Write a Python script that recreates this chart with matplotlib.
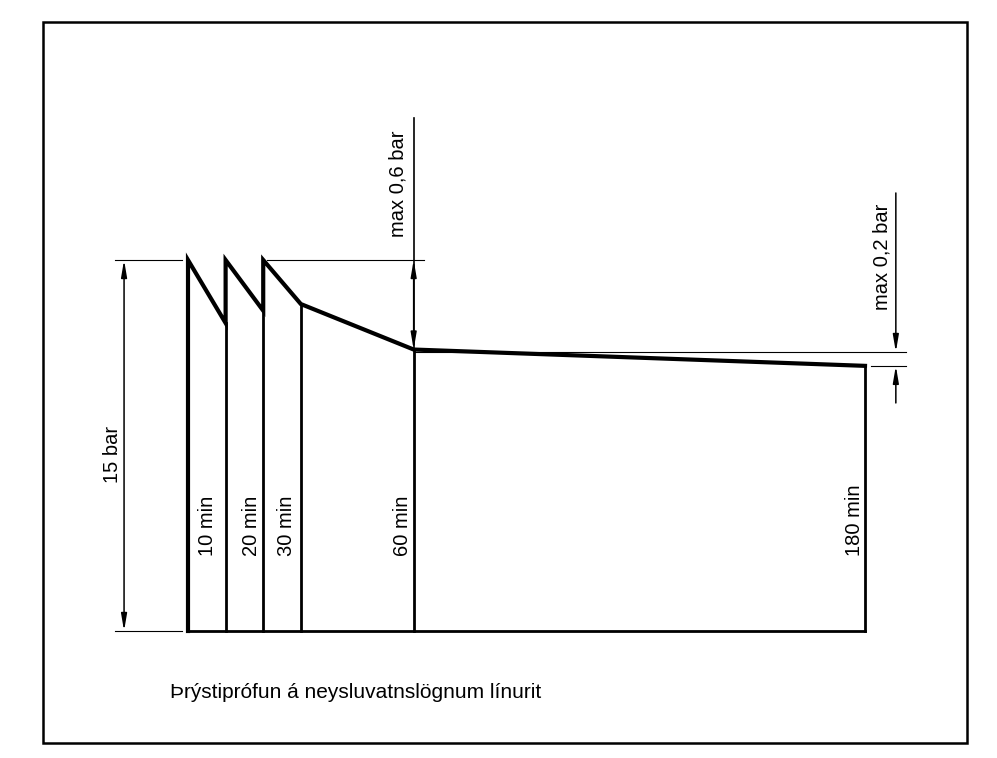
import matplotlib
matplotlib.use("Agg")
import matplotlib.pyplot as plt
from matplotlib.patches import Rectangle

plt.rcParams['font.family'] = ['Liberation Sans', 'DejaVu Sans']

# time marks (min) and drawn pressure levels (drawing units, 15 = test pressure)
times = [0, 10, 20, 30, 60, 180]
peak = 15
drops = [12.45, 12.95]          # level reached at 10 and 20 min before re-pumping
p30, p60, p180 = 13.22, 11.38, 10.72
time_labels = ['10 min', '20 min', '30 min', '60 min', '180 min']
caption = 'Þrýstiprófun á neysluvatnslögnum línurit'

fig = plt.figure(figsize=(9.97, 7.58), dpi=100)
W, H = 997, 758
# axes placed so that t=0..180 and level 0..15 fall on the drawing
ax = fig.add_axes([188 / W, (H - 631) / H, (865 - 188) / W, (631 - 260) / H])
ax.set_xlim(0, 180)
ax.set_ylim(0, 15)
ax.axis('off')

# frame around the drawing
fig.patches.append(Rectangle((43 / W, (H - 743) / H), (967 - 43) / W, (743 - 22) / H,
                             transform=fig.transFigure, fill=False, lw=1.8, ec='black'))

# pressure curve
cx = [times[0], times[0], times[1], times[1], times[2], times[2], times[3], times[4], times[5]]
cy = [0, peak, drops[0], peak, drops[1], peak, p30, p60, p180]
ax.plot(cx, cy, color='black', lw=3, solid_joinstyle='miter', clip_on=False)

# verticals at the time marks and base line
levels = [peak, drops[0], drops[1], p30, p60, p180]
for t, lv in zip(times, levels):
    ax.plot([t, t], [0, lv], color='black', lw=2, clip_on=False)
ax.plot([times[0], times[-1]], [0, 0], color='black', lw=2, clip_on=False)

fs = 14.5
# time labels
lab_x = [5.3, 17.0, 26.3, 56.9, 177.3]
for t, s in zip(lab_x, time_labels):
    ax.text(t, 3.05, s, rotation=90, ha='center', va='bottom', fontsize=fs)

thin = dict(color='black', lw=0.8, clip_on=False)
arr = dict(color='black', lw=1.1, shrinkA=0, shrinkB=0)
head = 'head_length=1.0,head_width=0.17'

# 15 bar dimension
ax.plot([-19.4, -1.6], [peak, peak], **thin)
ax.plot([-19.4, -1.6], [0, 0], **thin)
ax.annotate('', xy=(-17, peak), xytext=(-17, 0),
            arrowprops=dict(arrowstyle='<|-|>,' + head, **arr), annotation_clip=False)
ax.text(-20.2, 7.12, '15 bar', rotation=90, ha='center', va='center', fontsize=fs)

# max 0,6 bar dimension at 60 min
ax.plot([21, 62.7], [peak, peak], **thin)
ax.plot([60, 60], [p60, 20.74], color='black', lw=1.2, clip_on=False)
ax.annotate('', xy=(60, peak), xytext=(60, p60),
            arrowprops=dict(arrowstyle='<|-|>,' + head, **arr), annotation_clip=False)
ax.text(55.8, 15.93, 'max 0,6 bar', rotation=90, ha='center', va='bottom', fontsize=fs)

# max 0,2 bar dimension after 180 min
ax.plot([60, 190.9], [11.28, 11.28], **thin)
ax.plot([181.6, 190.9], [p180, p180], **thin)
ax.annotate('', xy=(188.2, 11.28), xytext=(188.2, 17.71),
            arrowprops=dict(arrowstyle='-|>,' + head, **arr), annotation_clip=False)
ax.annotate('', xy=(188.2, p180), xytext=(188.2, 9.22),
            arrowprops=dict(arrowstyle='-|>,' + head, **arr), annotation_clip=False)
ax.text(184.5, 12.98, 'max 0,2 bar', rotation=90, ha='center', va='bottom', fontsize=fs)

# caption
ax.text(-4.8, -2.5, caption, ha='left', va='center', fontsize=15)

fig.savefig('out.png', dpi=100, facecolor='white')
